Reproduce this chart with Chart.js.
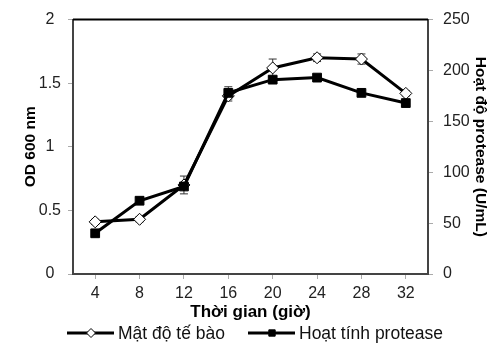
<!DOCTYPE html>
<html>
<head>
<meta charset="utf-8">
<script src="https://cdn.jsdelivr.net/npm/chart.js@4.4.1/dist/chart.umd.min.js"></script>
<style>
  html, body { margin: 0; padding: 0; background: #fff; }
  #wrap { width: 500px; height: 347px; }
</style>
</head>
<body>
<div id="wrap"><canvas id="grafico"></canvas></div>
<script>
const gio = ['4', '8', '12', '16', '20', '24', '28', '32'];
const matDo = [0.41, 0.43, 0.70, 1.40, 1.62, 1.70, 1.69, 1.42];
const matDoErr = [0.02, 0.02, 0.07, 0.04, 0.07, 0.03, 0.04, 0.02];
const protease = [40, 72, 86, 178, 191, 193, 178, 168];
const proteaseErr = [2, 3, 3, 6, 2, 2, 2, 3];
const odTicks = [0, 0.5, 1, 1.5, 2];
const proTicks = [0, 50, 100, 150, 200, 250];

const font = 'Liberation Sans, Arial, sans-serif';

// error bars, behind the markers
const errorBars = {
    id: 'errorBars',
    beforeDatasetsDraw(chart) {
        const ctx = chart.ctx;
        const x = chart.scales.x;
        ctx.save();
        ctx.strokeStyle = '#333';
        ctx.lineWidth = 1;
        chart.data.datasets.forEach((ds) => {
            const y = chart.scales[ds.yAxisID];
            ds.data.forEach((v, i) => {
                const e = ds.err[i];
                const px = x.getPixelForValue(i);
                const top = y.getPixelForValue(v + e);
                const bot = y.getPixelForValue(v - e);
                ctx.beginPath();
                ctx.moveTo(px, top); ctx.lineTo(px, bot);
                ctx.moveTo(px - 4, top); ctx.lineTo(px + 4, top);
                ctx.moveTo(px - 4, bot); ctx.lineTo(px + 4, bot);
                ctx.stroke();
            });
        });
        ctx.restore();
    }
};

// top edge of the box and the legend under it
const frameLegend = {
    id: 'frameLegend',
    afterDraw(chart) {
        const ctx = chart.ctx;
        const a = chart.chartArea;
        ctx.save();
        ctx.strokeStyle = '#000';
        ctx.lineWidth = 2;
        ctx.beginPath();
        ctx.moveTo(a.left, a.top); ctx.lineTo(a.right, a.top);
        ctx.stroke();

        const items = [
            { text: 'Mật độ tế bào', style: 'rectRot', fill: '#fff', x: 67 },
            { text: 'Hoạt tính protease', style: 'rect', fill: '#000', x: 248 }
        ];
        const ly = 333;
        items.forEach((it) => {
            ctx.strokeStyle = '#000';
            ctx.lineWidth = 3;
            ctx.beginPath();
            ctx.moveTo(it.x, ly); ctx.lineTo(it.x + 47, ly);
            ctx.stroke();
            ctx.fillStyle = it.fill;
            ctx.lineWidth = 1;
            Chart.helpers.drawPoint(ctx, { pointStyle: it.style, radius: 4.5, borderWidth: 1 }, it.x + 24, ly);
            ctx.fillStyle = '#111';
            ctx.font = '17.5px ' + font;
            ctx.textBaseline = 'middle';
            ctx.fillText(it.text, it.x + 51, ly + 1);
        });
        ctx.restore();
    }
};

const plain = (v) => String(v);

const ctx = document.getElementById('grafico').getContext('2d');

const grafico = new Chart(ctx, {
    type: 'line',
    data: {
        labels: gio,
        datasets: [{
            label: 'Mật độ tế bào',
            data: matDo,
            err: matDoErr,
            yAxisID: 'y',
            borderColor: '#000',
            borderWidth: 3,
            pointStyle: 'rectRot',
            pointRadius: 6,
            pointBackgroundColor: '#fff',
            pointBorderColor: '#000',
            pointBorderWidth: 1,
            tension: 0,
            order: 2
        }, {
            label: 'Hoạt tính protease',
            data: protease,
            err: proteaseErr,
            yAxisID: 'y1',
            borderColor: '#000',
            borderWidth: 3,
            pointStyle: 'rect',
            pointRadius: 6.2,
            pointBackgroundColor: '#000',
            pointBorderColor: '#000',
            pointBorderWidth: 1,
            tension: 0,
            order: 1
        }]
    },
    options: {
        responsive: true,
        maintainAspectRatio: false,
        animation: false,
        layout: { padding: { top: 19, bottom: 21 } },
        plugins: {
            legend: { display: false },
            tooltip: { enabled: false }
        },
        scales: {
            x: {
                offset: true,
                afterFit: (s) => { s.height = 52; },
                grid: {
                    display: true,
                    drawOnChartArea: false,
                    offset: false,
                    tickLength: 5,
                    color: '#aaa'
                },
                border: { color: '#444', width: 2 },
                ticks: {
                    color: '#222',
                    padding: 5,
                    maxRotation: 0,
                    font: { size: 16, family: font }
                },
                title: {
                    display: true,
                    text: 'Thời gian (giờ)',
                    color: '#000',
                    padding: { top: 4, bottom: 3 },
                    font: { size: 17, weight: 'bold', family: font }
                }
            },
            y: {
                position: 'left',
                min: 0,
                max: 2,
                afterFit: (s) => { s.width = 73; },
                afterBuildTicks: (s) => { s.ticks = odTicks.map(v => ({ value: v })); },
                grid: { drawOnChartArea: false, tickLength: 5, color: '#aaa' },
                border: { color: '#444', width: 2 },
                ticks: {
                    color: '#222',
                    crossAlign: 'center',
                    padding: 7,
                    callback: plain,
                    font: { size: 16, family: font }
                },
                title: {
                    display: true,
                    text: 'OD 600 nm',
                    color: '#000',
                    padding: { top: 21, bottom: 4 },
                    font: { size: 15.5, weight: 'bold', family: font }
                }
            },
            y1: {
                position: 'right',
                min: 0,
                max: 250,
                afterFit: (s) => { s.width = 72; },
                afterBuildTicks: (s) => { s.ticks = proTicks.map(v => ({ value: v })); },
                grid: { drawOnChartArea: false, tickLength: 5, color: '#aaa' },
                border: { color: '#444', width: 2 },
                ticks: {
                    color: '#222',
                    padding: 10,
                    callback: plain,
                    font: { size: 16, family: font }
                },
                title: {
                    display: true,
                    text: 'Hoạt độ protease (U/mL)',
                    color: '#000',
                    padding: { top: 10, bottom: 4 },
                    font: { size: 15.5, weight: 'bold', family: font }
                }
            }
        }
    },
    plugins: [errorBars, frameLegend]
});
</script>
</body>
</html>
